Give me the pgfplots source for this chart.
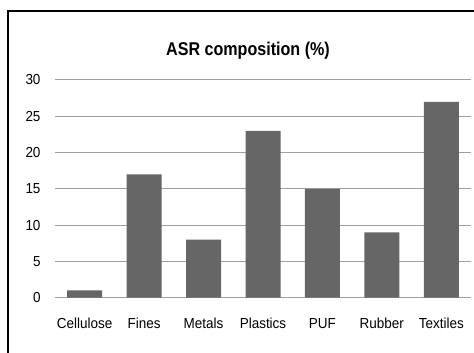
\documentclass[border=0pt]{standalone}
\usepackage{pgfplots}
\pgfplotsset{compat=1.18}
\usepackage{fontspec}
\setmainfont{Liberation Sans}
\newfontfamily\tickfont[FakeStretch=0.93]{Liberation Sans}
\newfontfamily\titlefont[FakeStretch=0.87]{Liberation Sans Bold}
\definecolor{barcol}{RGB}{102,102,102}
\definecolor{gridcol}{RGB}{160,160,160}
\begin{document}
\begin{tikzpicture}
\path[use as bounding box] (0,0) rectangle (474bp,353bp);
\draw[line width=2bp] (8.3bp,-5bp) -- (8.3bp,342bp) -- (480bp,342bp);
\node[anchor=base, inner sep=0pt, font=\titlefont\fontsize{18.5bp}{21bp}\selectfont] at (248bp,297bp) {ASR composition (\%)};
\begin{axis}[
  at={(55bp,55.3bp)}, anchor=south west,
  scale only axis, width=416bp, height=217.7bp,
  xmin=-0.5, xmax=6.5, ymin=0, ymax=30,
  ytick={0,5,...,30},
  xtick={0,1,2,3,4,5,6},
  xticklabels={Cellulose,Fines,Metals,Plastics,PUF,Rubber,Textiles},
  major tick length=0pt,
  axis line style={draw=none},
  ymajorgrids, grid style={draw=gridcol, line width=1bp},
  /pgf/number format/assume math mode=true,
  tick label style={font=\tickfont\fontsize{14.5bp}{17bp}\selectfont, inner sep=0pt},
  xticklabel style={anchor=base, yshift=-30.6bp},
  yticklabel style={anchor=east, xshift=-14.3bp},
]
\addplot[ybar, fill=barcol, draw=none, bar width=35bp] coordinates {
(0,1) (1,17) (2,8) (3,23) (4,15) (5,9) (6,27)
};
\end{axis}
\end{tikzpicture}
\end{document}
